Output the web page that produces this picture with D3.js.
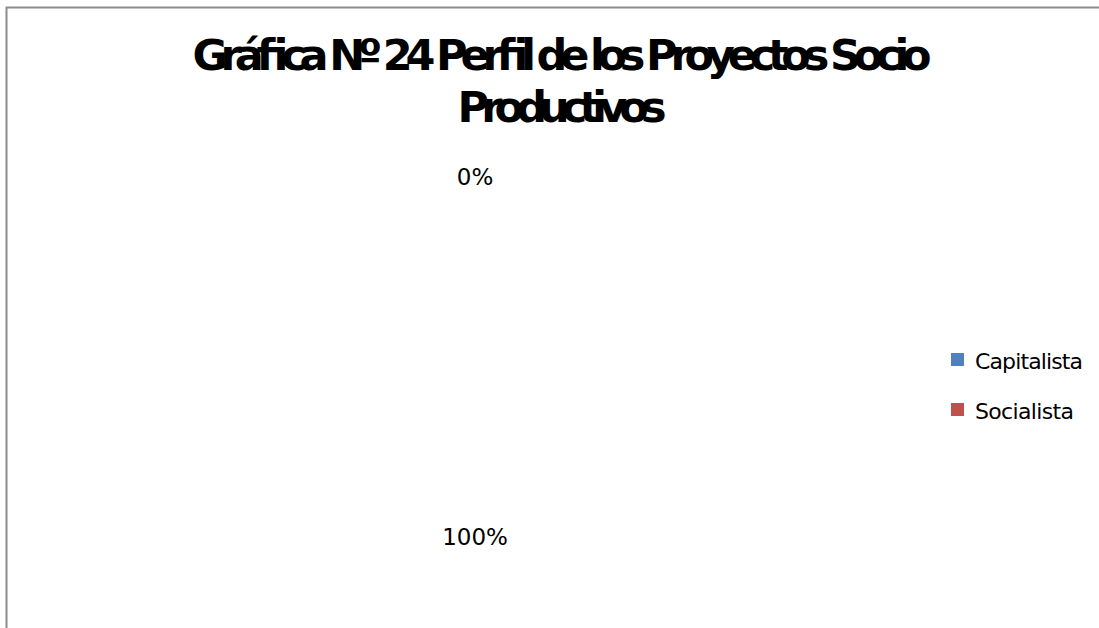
<!DOCTYPE html>
<html><head><meta charset="utf-8">
<script src="https://cdn.jsdelivr.net/npm/d3@7"></script>
<style>html,body{margin:0;padding:0;background:#fff;overflow:hidden}</style>
</head><body>
<svg id="c" width="1099" height="628"></svg>
<script>
const categories = ["Capitalista", "Socialista"];
const values = [0, 100];
const colors = ["#4F81BD", "#C0504D"];
const titleLines = ["Gráfica Nº 24 Perfil de los Proyectos Socio", "Productivos"];

const svg = d3.select("#c");
svg.append("rect").attr("x", 6.5).attr("y", 7.5).attr("width", 1200).attr("height", 800)
  .attr("fill", "#fff").attr("stroke", "#8c8c8c").attr("stroke-width", 2);

// title
const tl = [{t: titleLines[0], y: 70, w: 739}, {t: titleLines[1], y: 122, w: 209}];
svg.selectAll("text.title").data(tl).join("text").attr("class", "title")
  .attr("x", 562).attr("y", d => d.y).attr("text-anchor", "middle")
  .attr("font-family", "DejaVu Sans").attr("font-weight", "bold").attr("font-size", 43)
  .attr("textLength", d => d.w).attr("lengthAdjust", "spacing")
  .attr("fill", "#000").text(d => d.t);

// pie (slices rendered invisible as in reference)
const cx = 475, cy = 357, r = 150, labelR = 180;
const pie = d3.pie().sort(null).value(d => d.v);
const data = pie(categories.map((c, i) => ({c, v: values[i], col: colors[i]})));
const arc = d3.arc().innerRadius(0).outerRadius(r);
const g = svg.append("g").attr("transform", `translate(${cx},${cy})`);
g.selectAll("path").data(data).join("path").attr("d", arc)
  .attr("fill", d => d.data.col).attr("fill-opacity", 0);
const total = d3.sum(values);
const lab = d3.arc().innerRadius(labelR).outerRadius(labelR);
g.selectAll("text").data(data).join("text")
  .attr("transform", d => `translate(${lab.centroid(d)})`)
  .attr("text-anchor", "middle").attr("dy", "0.36em")
  .attr("font-family", "DejaVu Sans").attr("font-size", 23).attr("fill", "#000")
  .text(d => Math.round(d.data.v / total * 100) + "%");

// legend
const lg = svg.append("g").attr("transform", "translate(951,353)");
const items = lg.selectAll("g").data(categories).join("g")
  .attr("transform", (d, i) => `translate(0,${i * 50})`);
items.append("rect").attr("width", 13).attr("height", 13).attr("fill", (d, i) => colors[i]);
items.append("text").attr("x", 24).attr("y", 16)
  .attr("font-family", "DejaVu Sans").attr("font-size", 22).attr("fill", "#000")
  .attr("textLength", (d, i) => i === 0 ? 108 : 99).attr("lengthAdjust", "spacing")
  .text(d => d);
</script>
</body></html>
